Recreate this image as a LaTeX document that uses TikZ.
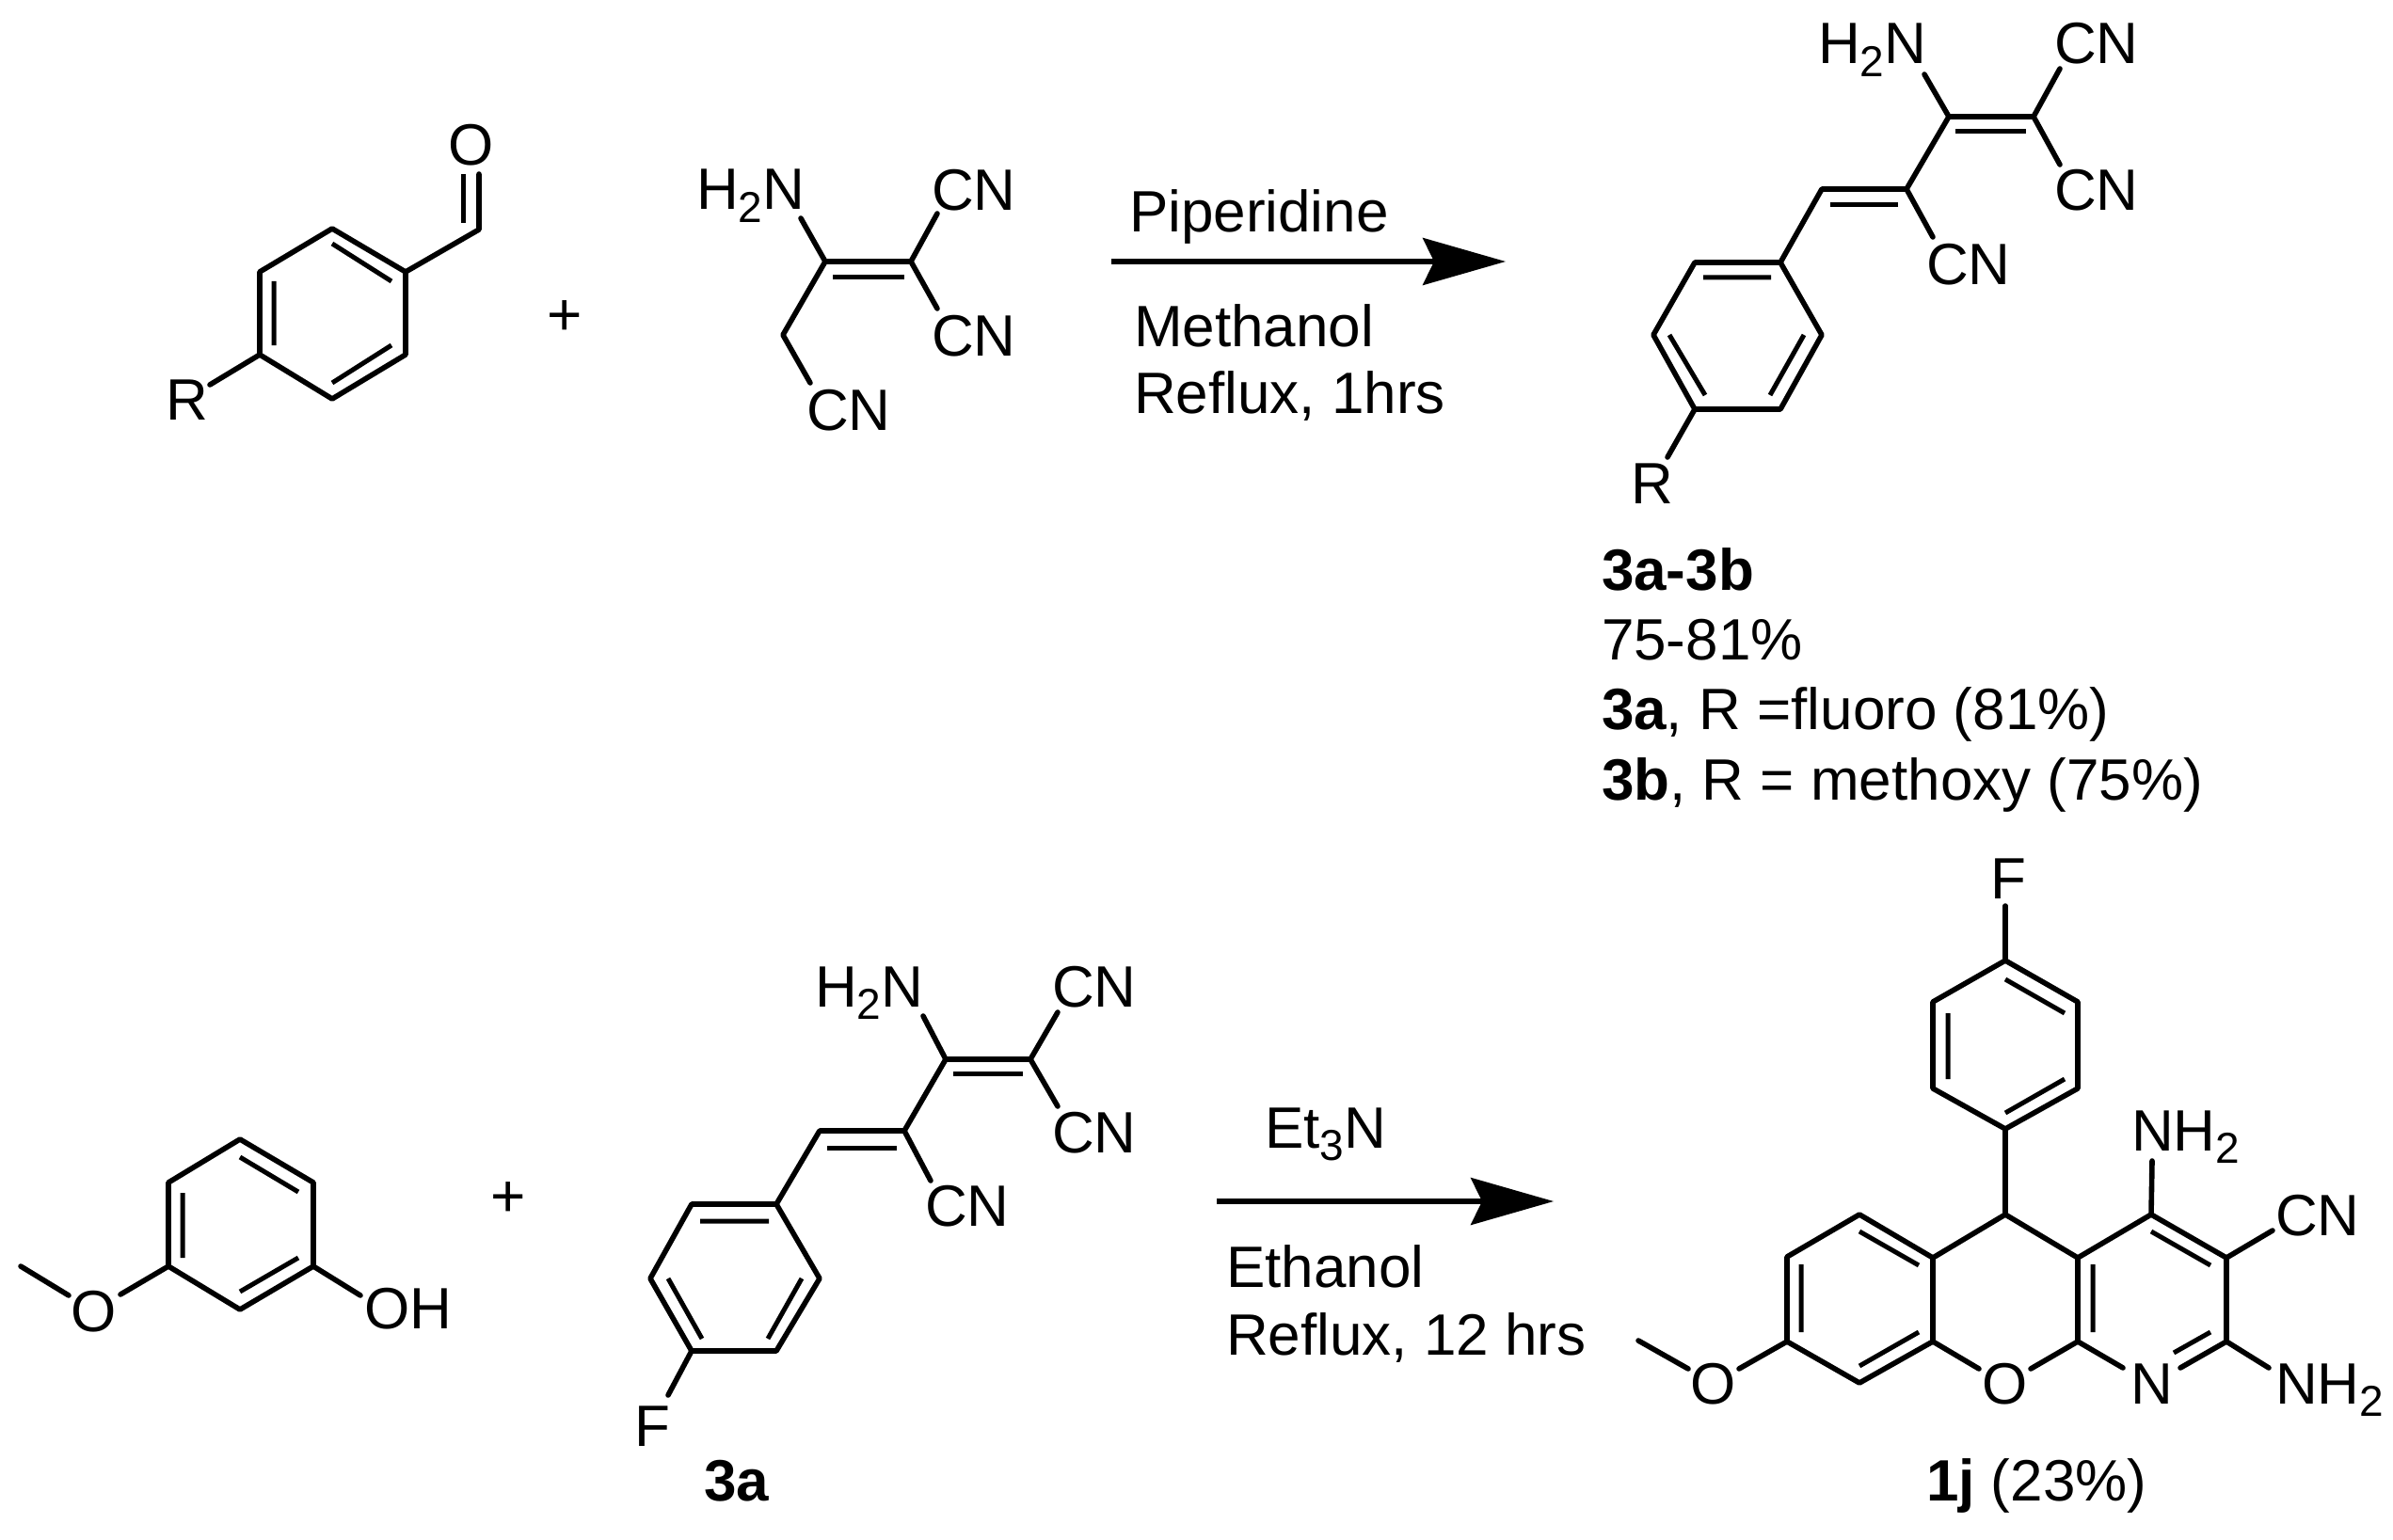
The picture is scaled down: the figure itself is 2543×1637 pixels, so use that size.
\documentclass[tikz,border=0pt]{standalone}
\usepackage{fontspec}
\setmainfont{Liberation Sans}
\usetikzlibrary{arrows.meta}
\newcommand\subt[1]{\raisebox{-0.22em}{\fontsize{23}{23}\selectfont #1}}
\newcommand\subtb[1]{\raisebox{-0.22em}{\fontsize{23}{23}\selectfont #1}}
\tikzset{
  bond/.style={line width=2.8pt,line cap=round,line join=round,black},
  inner bond/.style={line width=2.5pt,line cap=butt,black},
  atom/.style={anchor=base west,inner sep=0pt,outer sep=0pt,font=\fontsize{31}{32}\selectfont},
  atomc/.style={anchor=base,inner sep=0pt,outer sep=0pt,font=\fontsize{31}{32}\selectfont},
  cond/.style={anchor=base west,inner sep=0pt,outer sep=0pt,font=\fontsize{31}{33}\selectfont},
  rxn/.style={line width=2.6pt,black,-{Stealth[length=44pt,width=25pt,inset=6pt]}},
  plus/.style={inner sep=0pt,font=\fontsize{32}{32}\selectfont},
}
\begin{document}
\begin{tikzpicture}[x=0.5pt,y=-0.5pt]
\path[use as bounding box,fill=white] (0,0) rectangle (2543,1637);

% --- aldehyde
\coordinate (a1) at (353,243); \coordinate (a2) at (431,289); \coordinate (a3) at (431,377);
\coordinate (a4) at (353,424); \coordinate (a5) at (276,377); \coordinate (a6) at (276,289);
\coordinate (a7) at (509,244);
\coordinate (a1i) at (353,259); \coordinate (a2i) at (416,299);
\coordinate (a3i) at (416,367); \coordinate (a4i) at (353,407);
\coordinate (a5i) at (291,367); \coordinate (a6i) at (291,299);
\coordinate (aoM) at (509,185); \coordinate (aiT) at (492,185); \coordinate (aiB) at (492,237);
\coordinate (aR) at (223,409);
\node[atomc] (O1) at (501,176) {O};
\node[atom] (R1) at (176,446) {R};
\draw[bond] (a1)--(a2)--(a3)--(a4)--(a5)--(a6)--cycle;
\draw[inner bond] (a1i)--(a2i) (a3i)--(a4i) (a5i)--(a6i);
\draw[bond] (a2)--(a7)--(aoM);
\draw[inner bond] (aiT)--(aiB);
\draw[bond] (a5)--(aR);
\node[plus] (plus1) at (600,338) {+};

% --- nitrile dimer
\coordinate (m1) at (877,278); \coordinate (m2) at (968,278);
\coordinate (m1i) at (885,295); \coordinate (m2i) at (961,295);
\coordinate (mN) at (851,232); \coordinate (mCa) at (996,227); \coordinate (mCb) at (996,328);
\coordinate (m3) at (832,356); \coordinate (mCc) at (861,407);
\node[atom] (mH) at (740,223) {H\subt{2}N};
\node[atom] (mA) at (990,224) {CN};
\node[atom] (mB) at (990,378) {CN};
\node[atom] (mC) at (857,457) {CN};
\draw[bond] (mN)--(m1)--(m2)--(mCa) (m2)--(mCb) (m1)--(m3)--(mCc);
\draw[inner bond] (m1i)--(m2i);

% --- arrow 1
\coordinate (r1s) at (1181,278); \coordinate (r1e) at (1600,278);
\draw[rxn] (r1s)--(r1e);
\node[cond] (c1) at (1200,247) {Piperidine};
\node[cond] (c2) at (1205,368) {Methanol};
\node[cond] (c3) at (1205,439) {Reflux, 1hrs};

% --- product 3a-3b
\coordinate (p1) at (2071,124); \coordinate (p2) at (2161,124);
\coordinate (p1i) at (2078,140); \coordinate (p2i) at (2153,140);
\coordinate (pN) at (2045,79); \coordinate (pCa) at (2189,73); \coordinate (pCb) at (2189,175);
\coordinate (p3) at (2026,201); \coordinate (p4) at (1936,201);
\coordinate (p3i) at (2017,218); \coordinate (p4i) at (1945,218);
\coordinate (pCc) at (2054,252);
\coordinate (q1) at (1892,279); \coordinate (q2) at (1801,279); \coordinate (q3) at (1757,356);
\coordinate (q4) at (1801,435); \coordinate (q5) at (1892,435); \coordinate (q6) at (1936,356);
\coordinate (q1i) at (1882,295); \coordinate (q2i) at (1810,295);
\coordinate (q3i) at (1774,356); \coordinate (q4i) at (1812,420);
\coordinate (q5i) at (1881,420); \coordinate (q6i) at (1917,356);
\coordinate (pR) at (1772,486);
\node[atom] (pH) at (1932,68) {H\subt{2}N};
\node[atom] (pA) at (2183,68) {CN};
\node[atom] (pB) at (2183,224) {CN};
\node[atom] (pC) at (2047,303) {CN};
\node[atom] (R2) at (1733,535) {R};
\draw[bond] (pN)--(p1)--(p2)--(pCa) (p2)--(pCb) (p1)--(p3)--(p4)--(q1) (p3)--(pCc);
\draw[inner bond] (p1i)--(p2i) (p3i)--(p4i);
\draw[bond] (q1)--(q2)--(q3)--(q4)--(q5)--(q6)--cycle;
\draw[inner bond] (q1i)--(q2i) (q3i)--(q4i) (q5i)--(q6i);
\draw[bond] (q4)--(pR);
\node[cond] (l1) at (1702,627) {\textbf{3a-3b}};
\node[cond] (l2) at (1702,701) {75-81\%};
\node[cond] (l3) at (1702,775) {\textbf{3a}, R =fluoro (81\%)};
\node[cond] (l4) at (1702,850) {\textbf{3b}, R = methoxy (75\%)};

% --- methoxyphenol
\coordinate (b1) at (255,1211); \coordinate (b2) at (333,1257); \coordinate (b3) at (333,1346);
\coordinate (b4) at (255,1392); \coordinate (b5) at (179,1346); \coordinate (b6) at (179,1257);
\coordinate (b1i) at (255,1230); \coordinate (b2i) at (317,1267);
\coordinate (b3i) at (317,1337); \coordinate (b4i) at (255,1373);
\coordinate (b5i) at (194,1337); \coordinate (b6i) at (194,1268);
\coordinate (bOH) at (383,1377); \coordinate (bOa) at (128,1376); \coordinate (bOb) at (73,1377);
\coordinate (bMe) at (22,1346);
\node[atomc] (O2) at (100,1415) {O};
\node[atom] (OH) at (387,1412) {OH};
\draw[bond] (b1)--(b2)--(b3)--(b4)--(b5)--(b6)--cycle;
\draw[inner bond] (b1i)--(b2i) (b3i)--(b4i) (b5i)--(b6i);
\draw[bond] (b3)--(bOH) (b5)--(bOa) (bOb)--(bMe);
\node[plus] (plus2) at (540,1275) {+};

% --- 3a
\coordinate (s1) at (1005,1126); \coordinate (s2) at (1095,1126);
\coordinate (s1i) at (1013,1141); \coordinate (s2i) at (1087,1141);
\coordinate (sN) at (981,1080); \coordinate (sCa) at (1124,1076); \coordinate (sCb) at (1124,1176);
\coordinate (s3) at (961,1202); \coordinate (s4) at (871,1202);
\coordinate (s3i) at (953,1220); \coordinate (s4i) at (879,1220);
\coordinate (sCc) at (989,1255);
\coordinate (t1) at (825,1280); \coordinate (t2) at (735,1280); \coordinate (t3) at (691,1359);
\coordinate (t4) at (735,1436); \coordinate (t5) at (825,1436); \coordinate (t6) at (871,1359);
\coordinate (t1i) at (817,1298); \coordinate (t2i) at (744,1298);
\coordinate (t3i) at (710,1359); \coordinate (t4i) at (746,1423);
\coordinate (t5i) at (816,1423); \coordinate (t6i) at (852,1359);
\coordinate (tF) at (710,1483);
\node[atom] (sH) at (866,1070) {H\subt{2}N};
\node[atom] (sA) at (1118,1070) {CN};
\node[atom] (sB) at (1118,1225) {CN};
\node[atom] (sC) at (983,1303) {CN};
\node[atom] (F1) at (674,1537) {F};
\node[cond] (l5) at (748,1595) {\textbf{3a}};
\draw[bond] (sN)--(s1)--(s2)--(sCa) (s2)--(sCb) (s1)--(s3)--(s4)--(t1) (s3)--(sCc);
\draw[inner bond] (s1i)--(s2i) (s3i)--(s4i);
\draw[bond] (t1)--(t2)--(t3)--(t4)--(t5)--(t6)--cycle;
\draw[inner bond] (t1i)--(t2i) (t3i)--(t4i) (t5i)--(t6i);
\draw[bond] (t4)--(tF);

% --- arrow 2
\coordinate (r2s) at (1293,1277); \coordinate (r2e) at (1651,1277);
\draw[rxn] (r2s)--(r2e);
\node[cond] (c4) at (1344,1220) {Et\subtb{3}N};
\node[cond] (c5) at (1303,1368) {Ethanol};
\node[cond] (c6) at (1303,1440) {Reflux, 12 hrs};

% --- product 1j
\coordinate (u1) at (2131,1021); \coordinate (u2) at (2208,1065); \coordinate (u3) at (2208,1157);
\coordinate (u4) at (2131,1200); \coordinate (u5) at (2054,1157); \coordinate (u6) at (2054,1065);
\coordinate (u1i) at (2131,1041); \coordinate (u2i) at (2194,1077);
\coordinate (u3i) at (2194,1147); \coordinate (u4i) at (2131,1183);
\coordinate (u5i) at (2070,1147); \coordinate (u6i) at (2070,1077);
\coordinate (uF) at (2131,963);
\coordinate (v0) at (2131,1291);
\coordinate (v1) at (2054,1337); \coordinate (v2) at (2054,1426);
\coordinate (v3) at (1976,1470); \coordinate (v4) at (1899,1426);
\coordinate (v5) at (1899,1336); \coordinate (v6) at (1976,1291);
\coordinate (v1a) at (2039,1345); \coordinate (v6a) at (1976,1309);
\coordinate (v5a) at (1914,1344); \coordinate (v4a) at (1914,1416);
\coordinate (v3a) at (1976,1452); \coordinate (v2a) at (2039,1416);
\coordinate (vOa) at (2103,1455); \coordinate (vOb) at (2158,1455);
\coordinate (vMa) at (1848,1455); \coordinate (vMb) at (1794,1455); \coordinate (vMc) at (1741,1425);
\coordinate (w1) at (2208,1337); \coordinate (w2) at (2208,1426);
\coordinate (w3) at (2286,1291); \coordinate (w4) at (2366,1337); \coordinate (w5) at (2366,1426);
\coordinate (w1a) at (2224,1344); \coordinate (w2a) at (2224,1416);
\coordinate (w3a) at (2286,1309); \coordinate (w4a) at (2349,1345);
\coordinate (w5a) at (2349,1416); \coordinate (wNa) at (2310,1438);
\coordinate (wNb) at (2256,1454); \coordinate (wNc) at (2317,1454);
\coordinate (wH1) at (2287,1234); \coordinate (wCN) at (2415,1308); \coordinate (wH2) at (2411,1454);
\node[atom] (F2) at (2115,955) {F};
\node[atomc] (O3) at (2131,1492) {O};
\node[atomc] (O4) at (1821,1492) {O};
\node[atomc] (N3) at (2287,1492) {N};
\node[atom] (nh1) at (2265,1223) {NH\subt{2}};
\node[atom] (cn1) at (2418,1313) {CN};
\node[atom] (nh2) at (2418,1492) {NH\subt{2}};
\node[cond] (l6) at (2047,1595) {\textbf{1j} (23\%)};
\draw[bond] (u1)--(u2)--(u3)--(u4)--(u5)--(u6)--cycle;
\draw[inner bond] (u1i)--(u2i) (u3i)--(u4i) (u5i)--(u6i);
\draw[bond] (u1)--(uF) (u4)--(v0);
\draw[bond] (v0)--(v1)--(v2)--(v3)--(v4)--(v5)--(v6)--(v1);
\draw[inner bond] (v1a)--(v6a) (v5a)--(v4a) (v3a)--(v2a);
\draw[bond] (v2)--(vOa) (vOb)--(w2)--(w1)--(v0) (w1)--(w3)--(w4)--(w5)--(wNc) (w2)--(wNb);
\draw[inner bond] (w1a)--(w2a) (w3a)--(w4a) (w5a)--(wNa);
\draw[bond] (v4)--(vMa) (vMb)--(vMc);
\draw[bond] (w3)--(wH1) (w4)--(wCN) (w5)--(wH2);
\end{tikzpicture}
\end{document}
